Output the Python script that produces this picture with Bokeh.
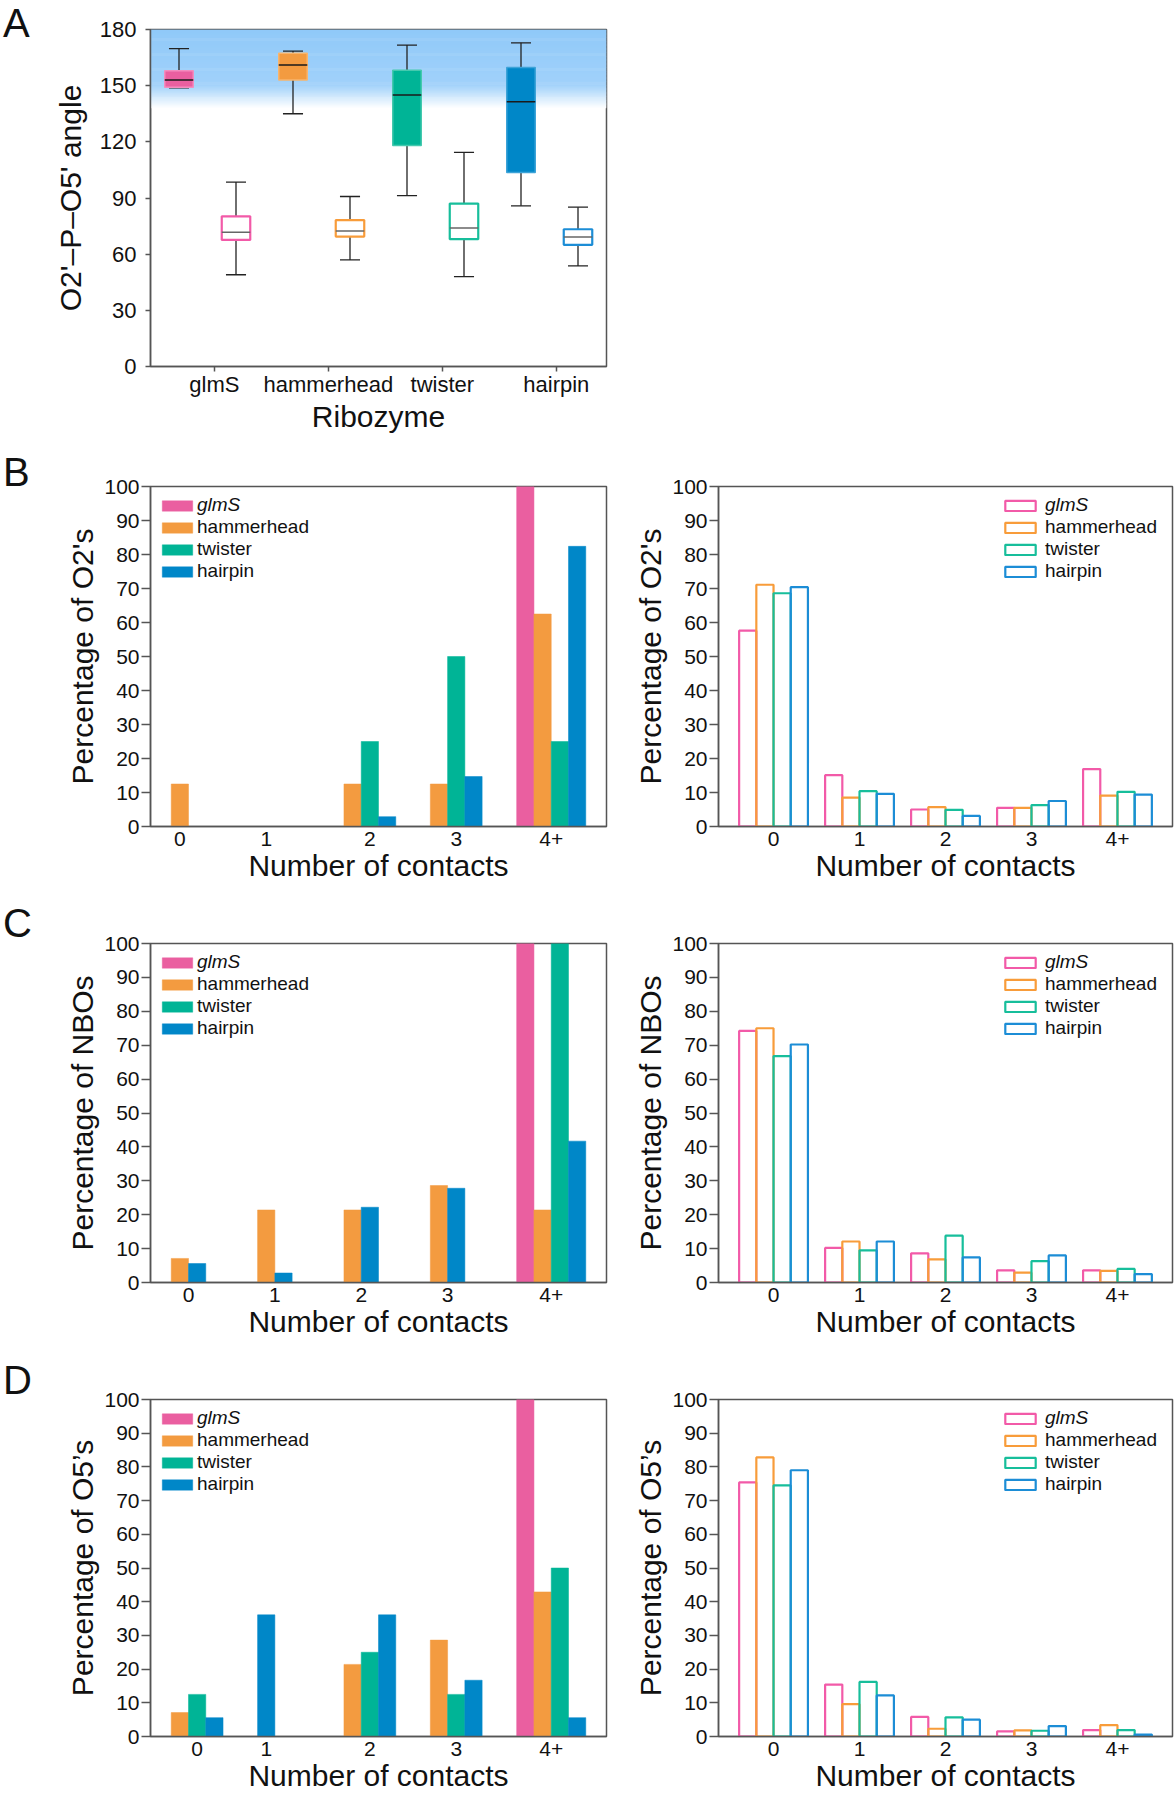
import numpy as np
from bokeh.plotting import figure
from bokeh.models import (ColumnDataSource, FixedTicker, Legend, LegendItem, Range1d, Div)
from bokeh.layouts import column, row
from bokeh.embed import file_html
from bokeh.resources import INLINE
from bokeh.core.properties import value

FONT = "Liberation Sans"
AXIS_COLOR = "#555555"
TEXT_COLOR = "#111111"

# ---------------- data ----------------
ribozymes = ["glmS", "hammerhead", "twister", "hairpin"]
fill_colors = ["#EA5FA0", "#F39B40", "#00B496", "#0087C8"]
edge_colors = ["#F38DBF", "#F8B56E", "#45C9AE", "#3DA3D8"]
open_colors = ["#F25AA8", "#F89C3A", "#17BE9B", "#1C8DD6"]
contact_labels = ["0", "1", "2", "3", "4+"]
angle_ticks = [0, 30, 60, 90, 120, 150, 180]
percent_ticks = [0, 10, 20, 30, 40, 50, 60, 70, 80, 90, 100]

# Panel A: O2'-P-O5' angle box statistics (filled = active site, open = other)
active_whisker_low = [148.8, 135.0, 91.3, 85.8]
active_q1 = [149.1, 153.0, 118.0, 103.6]
active_median = [153.0, 161.0, 145.0, 141.4]
active_q3 = [158.0, 167.3, 158.3, 159.7]
active_whisker_high = [169.8, 168.5, 171.7, 172.9]
other_whisker_low = [49.0, 56.9, 48.0, 53.7]
other_q1 = [67.6, 69.4, 68.0, 65.0]
other_median = [71.7, 72.4, 74.0, 69.2]
other_q3 = [80.2, 78.2, 87.0, 73.3]
other_whisker_high = [98.5, 90.8, 114.4, 85.1]

# Panel B: O2' contacts
o2_left_glms = [0, 0, 0, 0, 100]
o2_left_hammerhead = [12.5, 0, 12.5, 12.5, 62.5]
o2_left_twister = [0, 0, 25, 50, 25]
o2_left_hairpin = [0, 0, 2.9, 14.7, 82.4]
o2_right_glms = [57.6, 15.1, 5.0, 5.5, 16.9]
o2_right_hammerhead = [71.1, 8.5, 5.7, 5.5, 9.1]
o2_right_twister = [68.6, 10.4, 4.9, 6.3, 10.2]
o2_right_hairpin = [70.4, 9.6, 3.1, 7.5, 9.4]

# Panel C: NBO contacts
nbo_left_glms = [0, 0, 0, 0, 100]
nbo_left_hammerhead = [7.1, 21.4, 21.4, 28.6, 21.4]
nbo_left_twister = [0, 0, 0, 0, 100]
nbo_left_hairpin = [5.6, 2.8, 22.2, 27.8, 41.7]
nbo_right_glms = [74.2, 10.2, 8.6, 3.6, 3.6]
nbo_right_hammerhead = [75.0, 12.1, 6.8, 2.9, 3.4]
nbo_right_twister = [66.8, 9.5, 13.8, 6.3, 4.0]
nbo_right_hairpin = [70.2, 12.1, 7.4, 8.0, 2.5]

# Panel D: O5' contacts
o5_left_glms = [0, 0, 0, 0, 100]
o5_left_hammerhead = [7.1, 0, 21.4, 28.6, 42.9]
o5_left_twister = [12.5, 0, 25, 12.5, 50]
o5_left_hairpin = [5.6, 36.1, 36.1, 16.7, 5.6]
o5_right_glms = [75.4, 15.4, 5.8, 1.5, 1.9]
o5_right_hammerhead = [82.8, 9.6, 2.3, 1.8, 3.4]
o5_right_twister = [74.5, 16.2, 5.7, 1.7, 1.9]
o5_right_hairpin = [79.0, 12.2, 5.0, 3.1, 0.6]

# ---------------- layout constants ----------------
LETTER_W = 40
LEFT_FRAME_W = 456
RIGHT_FRAME_W = 454
GROUP_STRIDE = 5
BAR_W = 1.0
X_RANGE_BARS = (-1.2, 25.2)


def base_style(p):
    p.xgrid.grid_line_color = None
    p.ygrid.grid_line_color = None
    p.outline_line_color = AXIS_COLOR
    p.outline_line_width = 1.5
    p.background_fill_color = "white"
    p.border_fill_color = "white"
    for ax in (p.xaxis[0], p.yaxis[0]):
        ax.axis_line_color = AXIS_COLOR
        ax.axis_line_width = 1.5
        ax.major_tick_line_color = AXIS_COLOR
        ax.major_tick_line_width = 1.5
        ax.minor_tick_line_color = None
        ax.major_tick_in = 0
        ax.major_label_text_font = FONT
        ax.major_label_text_color = TEXT_COLOR
        ax.axis_label_text_font = FONT
        ax.axis_label_text_font_style = "normal"
        ax.axis_label_text_color = TEXT_COLOR
        ax.axis_label_text_font_size = "30px"


def letter_div(letter, height, pad_top):
    html = ("<div style=\"font-family:'Liberation Sans',Arial,sans-serif;font-size:40px;"
            "line-height:20px;color:#111111;padding-left:3px;padding-top:%dpx;\">%s</div>"
            % (pad_top, letter))
    return Div(text=html, width=LETTER_W, height=height, margin=(0, 0, 0, 0))


# ---------------- Panel A ----------------
pa = figure(frame_width=LEFT_FRAME_W, frame_height=337, min_border_left=110, min_border_right=14,
            min_border_top=29, min_border_bottom=84, x_range=Range1d(-0.5, 3.5),
            y_range=Range1d(0, 180), output_backend="svg", toolbar_location=None, tools="")
base_style(pa)

# shaded gradient band marking the in-line angle region
band_rgb = np.array([0x90, 0xC9, 0xF9])
band_edges = np.linspace(138.0, 180.0, 85)
band_mid = 0.5 * (band_edges[:-1] + band_edges[1:])
band_alpha = np.interp(band_mid, [138.0, 150.5, 180.0], [0.0, 0.85, 1.0])
band_cols = ["#%02x%02x%02x" % tuple(int(round(255 * (1 - a) + c * a)) for c in band_rgb)
             for a in band_alpha]
pa.quad(left=-0.5, right=3.5, bottom=band_edges[:-1], top=np.minimum(band_edges[1:] + 0.3, 180.0),
        fill_color=band_cols, line_color=None)

group_x = np.arange(len(ribozymes))
BOX_OFFSET = 0.25
BOX_W = 0.25
CAP_HALF = 0.088
TICK_SHIFT = 0.06


def box_source(xs, low, q1, med, q3, high, fills, edges):
    return ColumnDataSource(dict(x=xs, low=low, q1=q1, med=med, q3=q3, high=high,
                                 cl=xs - CAP_HALF, cr=xs + CAP_HALF,
                                 bl=xs - BOX_W / 2, br=xs + BOX_W / 2,
                                 fill=fills, edge=edges))


act_src = box_source(group_x - BOX_OFFSET, active_whisker_low, active_q1, active_median,
                     active_q3, active_whisker_high, fill_colors, edge_colors)
oth_src = box_source(group_x + BOX_OFFSET, other_whisker_low, other_q1, other_median,
                     other_q3, other_whisker_high, ["white"] * 4, open_colors)

for src in (act_src, oth_src):
    pa.segment(x0="x", y0="q3", x1="x", y1="high", source=src, line_color="#222222", line_width=1.3)
    pa.segment(x0="x", y0="q1", x1="x", y1="low", source=src, line_color="#222222", line_width=1.3)
    pa.segment(x0="cl", y0="high", x1="cr", y1="high", source=src, line_color="#222222", line_width=1.3)
    pa.segment(x0="cl", y0="low", x1="cr", y1="low", source=src, line_color="#222222", line_width=1.3)

pa.vbar(x="x", width=BOX_W, bottom="q1", top="q3", source=act_src, fill_color="fill",
        line_color="edge", line_width=1.5)
pa.vbar(x="x", width=BOX_W, bottom="q1", top="q3", source=oth_src, fill_color="fill",
        line_color="edge", line_width=2.2)
pa.segment(x0="bl", y0="med", x1="br", y1="med", source=act_src, line_color="#1a1a1a", line_width=1.5)
pa.segment(x0="bl", y0="med", x1="br", y1="med", source=oth_src, line_color="#666666", line_width=1.5)

tick_pos_a = [float(g + TICK_SHIFT) for g in group_x]
pa.xaxis.ticker = FixedTicker(ticks=tick_pos_a)
pa.xaxis.major_label_overrides = {t: name for t, name in zip(tick_pos_a, ribozymes)}
pa.xaxis.major_tick_out = 5
pa.xaxis.major_label_standoff = 0
pa.xaxis.major_label_text_font_size = "22px"
pa.xaxis.axis_label = "Ribozyme"
pa.xaxis.axis_label_standoff = 0
pa.yaxis.ticker = FixedTicker(ticks=angle_ticks)
pa.yaxis.major_tick_out = 5
pa.yaxis.major_label_standoff = 9
pa.yaxis.major_label_text_font_size = "22px"
pa.yaxis.axis_label = "O2'\u2013P\u2013O5' angle"
pa.yaxis.axis_label_standoff = 10


# ---------------- bar panels ----------------
def bar_panel(series, packed, ylabel, frame_h, border_top, border_bottom):
    frame_w = LEFT_FRAME_W if packed else RIGHT_FRAME_W
    p = figure(frame_width=frame_w, frame_height=frame_h,
               min_border_left=110 if packed else 98, min_border_right=14 if packed else 2,
               min_border_top=border_top, min_border_bottom=border_bottom,
               x_range=Range1d(*X_RANGE_BARS), y_range=Range1d(0, 100),
               output_backend="svg", toolbar_location=None, tools="")
    base_style(p)
    n_groups = len(contact_labels)
    xs = [[] for _ in series]
    tops = [[] for _ in series]
    tick_pos = []
    for k in range(n_groups):
        n = 0
        for s, vals in enumerate(series):
            if packed and vals[k] <= 0:
                continue
            slot = n if packed else s
            xs[s].append(GROUP_STRIDE * k + slot + BAR_W / 2)
            tops[s].append(vals[k])
            n += 1
        tick_pos.append(float(GROUP_STRIDE * k + max(n, 1) * BAR_W / 2))
    renderers = []
    for s in range(len(series)):
        src = ColumnDataSource(dict(x=xs[s], top=tops[s]))
        if packed:
            r = p.vbar(x="x", top="top", bottom=0, width=BAR_W, source=src,
                       fill_color=fill_colors[s], line_color=fill_colors[s], line_width=0.5)
        else:
            r = p.vbar(x="x", top="top", bottom=0, width=BAR_W, source=src,
                       fill_color=None, line_color=open_colors[s], line_width=2.2)
        renderers.append(r)

    p.xaxis.ticker = FixedTicker(ticks=tick_pos)
    p.xaxis.major_label_overrides = {t: lab for t, lab in zip(tick_pos, contact_labels)}
    p.xaxis.major_tick_out = 0
    p.xaxis.major_tick_line_color = None
    p.xaxis.major_label_standoff = 5
    p.xaxis.major_label_text_font_size = "21px"
    p.xaxis.axis_label = "Number of contacts"
    p.xaxis.axis_label_standoff = 0
    p.yaxis.ticker = FixedTicker(ticks=percent_ticks)
    p.yaxis.major_tick_out = 9
    p.yaxis.major_label_standoff = 2
    p.yaxis.major_label_text_font_size = "21px"
    p.yaxis.axis_label = ylabel
    p.yaxis.axis_label_standoff = 2

    common = dict(padding=0, spacing=0, margin=0, glyph_width=38, glyph_height=13,
                  label_height=22, label_standoff=1 if packed else 6,
                  label_text_font=FONT, label_text_font_size="19px", label_text_color=TEXT_COLOR,
                  background_fill_alpha=0, border_line_alpha=0)
    lx = 8 if packed else 283
    lg1 = Legend(items=[LegendItem(label=value(ribozymes[0]), renderers=[renderers[0]])],
                 location=(lx, frame_h - 8 - 22), label_text_font_style="italic", **common)
    lg2 = Legend(items=[LegendItem(label=value(n), renderers=[r])
                        for n, r in zip(ribozymes[1:], renderers[1:])],
                 location=(lx, frame_h - 30 - 66), **common)
    p.add_layout(lg1)
    p.add_layout(lg2)
    return p


b_left = bar_panel([o2_left_glms, o2_left_hammerhead, o2_left_twister, o2_left_hairpin], True,
                   "Percentage of O2's", 340, 36, 81)
b_right = bar_panel([o2_right_glms, o2_right_hammerhead, o2_right_twister, o2_right_hairpin], False,
                    "Percentage of O2's", 340, 36, 81)
c_left = bar_panel([nbo_left_glms, nbo_left_hammerhead, nbo_left_twister, nbo_left_hairpin], True,
                   "Percentage of NBOs", 339, 36, 81)
c_right = bar_panel([nbo_right_glms, nbo_right_hammerhead, nbo_right_twister, nbo_right_hairpin], False,
                    "Percentage of NBOs", 339, 36, 81)
d_left = bar_panel([o5_left_glms, o5_left_hammerhead, o5_left_twister, o5_left_hairpin], True,
                   "Percentage of O5\u2019s", 337, 36, 62)
d_right = bar_panel([o5_right_glms, o5_right_hammerhead, o5_right_twister, o5_right_hairpin], False,
                    "Percentage of O5\u2019s", 337, 36, 62)

layout = column(
    row(letter_div("A", 450, 13), pa),
    row(letter_div("B", 457, 12), b_left, b_right),
    row(letter_div("C", 456, 6), c_left, c_right),
    row(letter_div("D", 435, 7), d_left, d_right),
)

with open("out.html", "w") as f:
    f.write(file_html(layout, INLINE))
